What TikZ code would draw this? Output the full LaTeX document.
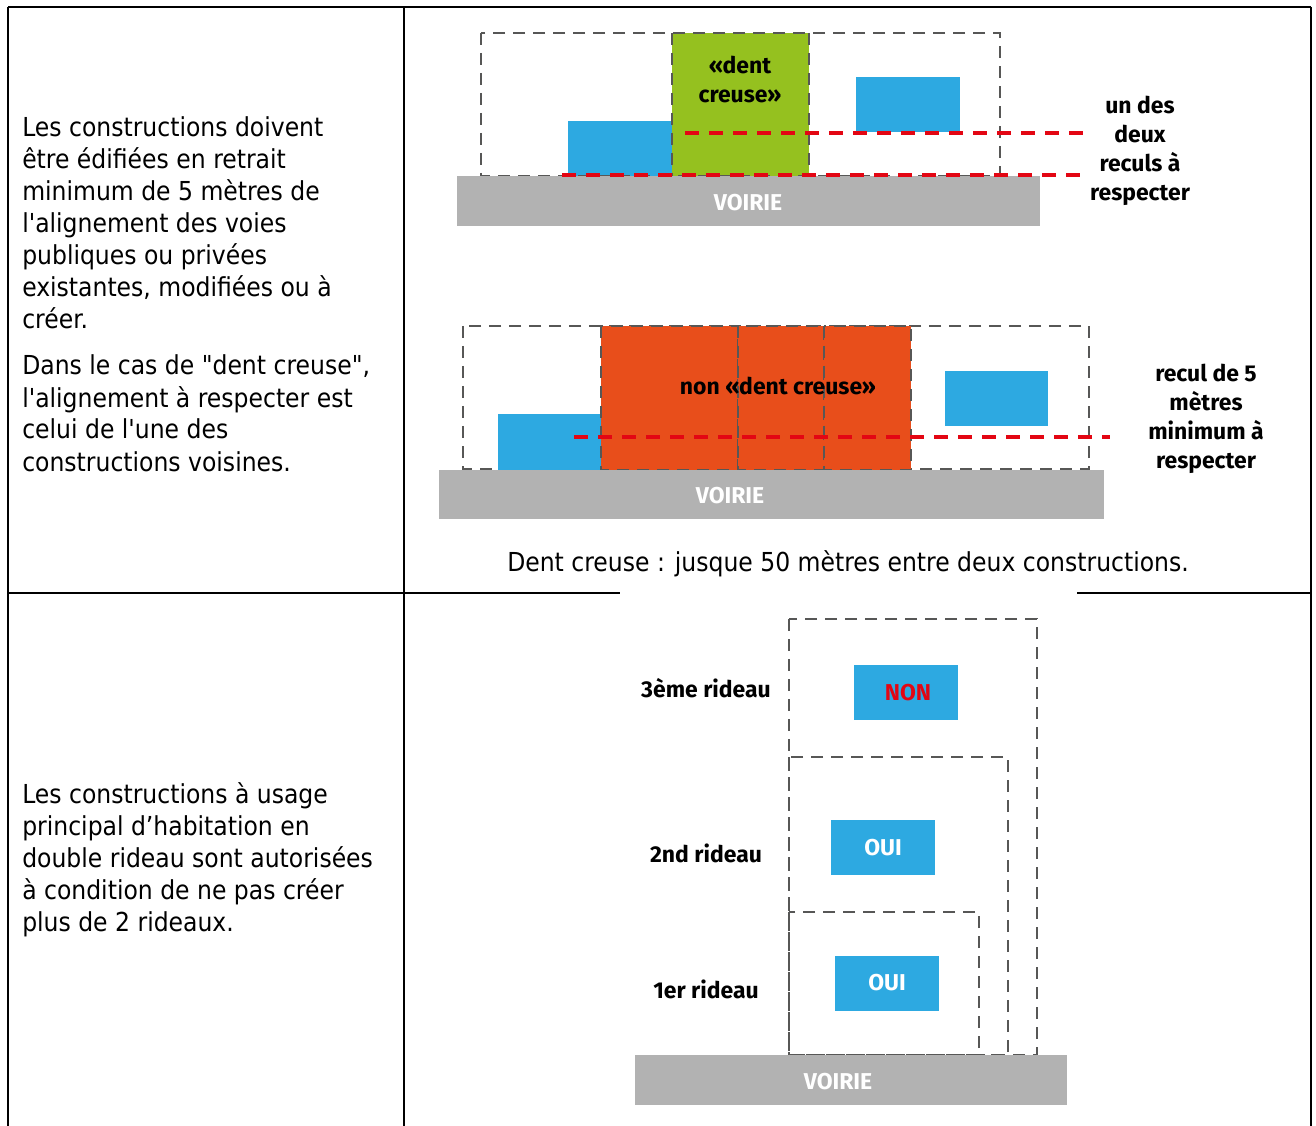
\documentclass[tikz,border=0pt]{standalone}
\usepackage{fontspec}
\setmainfont{DejaVu Sans Condensed}[Ligatures=TeXOff]
\newfontfamily\labelfont{Fira Sans}

\definecolor{batiblue}{RGB}{45,169,225}
\definecolor{dentgreen}{RGB}{149,193,31}
\definecolor{nonorange}{RGB}{232,78,27}
\definecolor{roadgray}{RGB}{178,178,178}
\definecolor{dashgray}{RGB}{87,87,86}
\definecolor{reculred}{RGB}{227,6,19}

\tikzset{x=0.75pt, y=-0.75pt,
    tableline/.style={draw=black, line width=1.5pt},
    dashbox/.style={draw=dashgray, line width=1.9pt, dash pattern=on 9pt off 6pt},
    reculdash/.style={draw=reculred, line width=2.8pt, dash pattern=on 10.5pt off 7.5pt},
    rule text/.style={anchor=base west, inner sep=0pt, font=\fontsize{19.6}{24}\selectfont},
    diag label/.style={align=center, inner sep=0pt, font=\labelfont\bfseries\fontsize{17.2}{21.75}\selectfont},
    voirie text/.style={text=white, inner sep=0pt, font=\labelfont\bfseries\fontsize{17.2}{20}\selectfont},
    batibox/.style={fill=batiblue, minimum width=78pt, minimum height=41.25pt, inner sep=0pt,
        text=white, font=\labelfont\bfseries\fontsize{17.2}{20}\selectfont},
    }

\begin{document}
\begin{tikzpicture}
\useasboundingbox (0,0) rectangle (1316,1126);

% tableau
\draw[tableline] (8,7) -- (1311,7);
\draw[tableline] (8,7) -- (8,1126) (404,7) -- (404,1126) (1311,7) -- (1311,1126);
\draw[tableline] (8,593) -- (620,593) (1077,593) -- (1311,593);

% textes de gauche
\foreach \l [count=\i] in {Les constructions doivent,être édifiées en retrait,minimum de 5 mètres de,
    l'alignement des voies,publiques ou privées,{existantes, modifiées ou à},créer.}
    \node[rule text] (recul-\i) at (22,137+32*\i-32) {\l};
\foreach \l [count=\i] in {{Dans le cas de "dent creuse",},l'alignement à respecter est,
    celui de l'une des,constructions voisines.}
    \node[rule text] (dent-\i) at (22,375+32*\i-32) {\l};
\foreach \l [count=\i] in {Les constructions à usage,principal d’habitation en,
    double rideau sont autorisées,à condition de ne pas créer,plus de 2 rideaux.}
    \node[rule text] (rideau-\i) at (22,803+32*\i-32) {\l};

% dent creuse
\fill[batiblue] (568,121) rectangle (672,176);
\fill[batiblue] (856,77) rectangle (960,132);
\fill[dentgreen] (672,33) rectangle (809,176);
\draw[dashbox] (481,33) rectangle (1000,176);
\draw[dashbox] (672,33) -- (672,176) (809,33) -- (809,176);
\fill[roadgray] (457,176) rectangle (1040,226);
\node[voirie text] (voirie-a) at (748,203) {VOIRIE};
\draw[reculdash] (685,133) -- (1083,133);
\draw[reculdash] (562,175) -- (1083,175);
\node[diag label] (dent) at (740,79) {«dent\\creuse»};
\node[diag label] (deux-reculs) at (1140,151) {un des\\deux\\reculs à\\respecter};

% non dent creuse
\draw[dashbox] (463,326) rectangle (1089,469);
\fill[batiblue] (498,414) rectangle (601,470);
\fill[batiblue] (945,371) rectangle (1048,426);
\foreach \xa/\xb in {601/738,738/824,824/911}
    \draw[dashbox, fill=nonorange] (\xa,326) rectangle (\xb,470);
\fill[roadgray] (439,470) rectangle (1104,519);
\node[voirie text] (voirie-b) at (730,496) {VOIRIE};
\draw[reculdash] (574,437) -- (1110,437);
\node[diag label] (non-dent) at (778,386) {non «dent creuse»};
\node[diag label] (cinq-metres) at (1206,419) {recul de 5\\mètres\\minimum à\\respecter};
\node[rule text, anchor=base] (cinquante) at (848,571) {Dent creuse : jusque 50 mètres entre deux constructions.};

% rideaux
\draw[dashbox] (789,619) rectangle (1037,1055);
\draw[dashbox] (789,757) rectangle (1008,1055);
\draw[dashbox] (789,912) rectangle (979,1055);
\node[batibox, text=reculred] (non) at (906,692.5) {\,NON};
\node[batibox] (oui-2) at (883,847.5) {OUI};
\node[batibox] (oui-1) at (887,983) {OUI};
\fill[roadgray] (635,1055) rectangle (1067,1105);
\node[voirie text] (voirie-c) at (838,1082) {VOIRIE};
\node[diag label] (rideau-3) at (706,688) {3ème rideau};
\node[diag label] (rideau-2) at (706,853) {2nd rideau};
\node[diag label] (rideau-1) at (706,989) {1er rideau};
\end{tikzpicture}
\end{document}
